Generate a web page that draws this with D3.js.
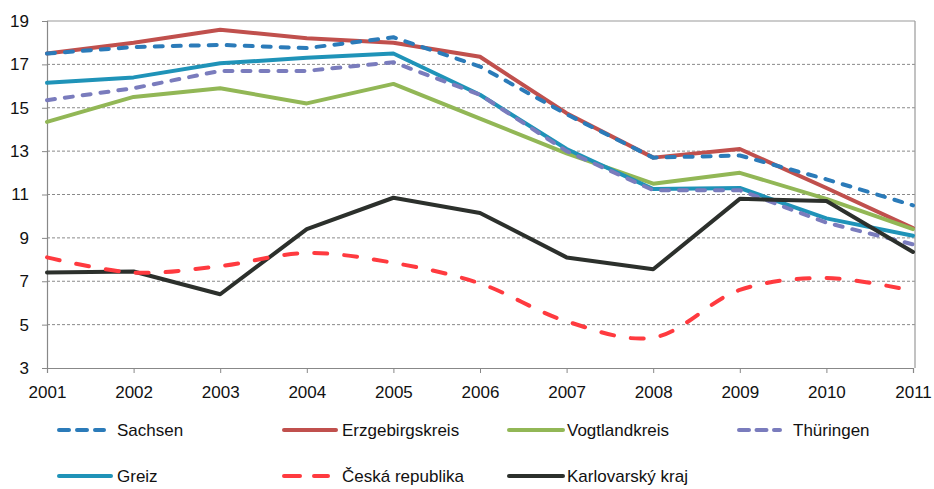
<!DOCTYPE html>
<html>
<head>
<meta charset="utf-8">
<script src="https://cdn.jsdelivr.net/npm/d3@7"></script>
<style>
  html, body { margin: 0; padding: 0; background: #fff; }
  svg { display: block; }
  text { font-family: "Liberation Sans", Arial, sans-serif; fill: #111; }
</style>
</head>
<body>
<svg id="chart" width="934" height="489"></svg>
<script>
const years = [2001, 2002, 2003, 2004, 2005, 2006, 2007, 2008, 2009, 2010, 2011];
const yTicks = [3, 5, 7, 9, 11, 13, 15, 17, 19];

const sachsen          = [17.5, 17.8, 17.9, 17.75, 18.25, 16.9, 14.7, 12.7, 12.8, 11.7, 10.5];
const erzgebirgskreis  = [17.5, 18.0, 18.6, 18.2, 18.0, 17.35, 14.75, 12.7, 13.1, 11.3, 9.45];
const vogtlandkreis    = [14.35, 15.5, 15.9, 15.2, 16.1, 14.5, 12.9, 11.5, 12.0, 10.8, 9.4];
const thueringen       = [15.35, 15.9, 16.7, 16.7, 17.1, 15.6, 13.0, 11.2, 11.2, 9.7, 8.7];
const greiz            = [16.15, 16.4, 17.05, 17.3, 17.5, 15.6, 13.1, 11.25, 11.3, 9.9, 9.1];
const ceskaRepublika   = [8.1, 7.4, 7.7, 8.3, 7.85, 6.9, 5.15, 4.4, 6.6, 7.15, 6.55];
const karlovarskyKraj  = [7.4, 7.45, 6.4, 9.4, 10.85, 10.15, 8.1, 7.55, 10.8, 10.7, 8.35];

const seriesNames = ["Sachsen", "Erzgebirgskreis", "Vogtlandkreis", "Thüringen", "Greiz", "Česká republika", "Karlovarský kraj"];
const seriesValues = [sachsen, erzgebirgskreis, vogtlandkreis, thueringen, greiz, ceskaRepublika, karlovarskyKraj];
const seriesColors = ["#2b7bb9", "#c0504d", "#92b756", "#7a7cbd", "#1f93b8", "#ff3a3f", "#2c302c"];
const seriesDash   = ["8,10", null, null, "8,10", null, "13,17", null];
const seriesSmooth = [false, false, false, false, false, true, false];

const svg = d3.select("#chart");
const plotLeft = 47, plotRight = 913, plotTop = 21, plotBottom = 368;

const x = d3.scaleLinear().domain([2001, 2011]).range([plotLeft, plotRight]);
const y = d3.scaleLinear().domain([3, 19]).range([plotBottom, plotTop]);

// gridlines
svg.append("g").selectAll("line")
  .data(yTicks.filter(v => v > 3 && v < 19))
  .join("line")
  .attr("x1", plotLeft).attr("x2", plotRight + 2)
  .attr("y1", d => y(d)).attr("y2", d => y(d))
  .attr("stroke", "#8a8a8a").attr("stroke-width", 1)
  .attr("stroke-dasharray", "3,2");

// frame top and right
svg.append("line").attr("x1", plotLeft).attr("x2", plotRight + 2).attr("y1", y(19)).attr("y2", y(19))
  .attr("stroke", "#999").attr("stroke-width", 1.2);
svg.append("line").attr("x1", plotRight + 2).attr("x2", plotRight + 2).attr("y1", y(19)).attr("y2", y(3))
  .attr("stroke", "#999").attr("stroke-width", 1.2);

// axes
const yAxis = d3.axisLeft(y).tickValues(yTicks).tickSize(5).tickPadding(13).tickFormat(d3.format("d"));
const gy = svg.append("g").attr("transform", `translate(${plotLeft},0)`).call(yAxis);
gy.select(".domain").attr("stroke", "#888").attr("stroke-width", 1.2);
gy.selectAll(".tick line").attr("stroke", "#888");
gy.selectAll("text").style("font-size", "17px").attr("fill", "#111");

const xAxis = d3.axisBottom(x).tickValues(years).tickSize(5).tickPadding(13).tickFormat(d3.format("d"));
const gx = svg.append("g").attr("transform", `translate(0,${plotBottom})`).call(xAxis);
gx.select(".domain").attr("stroke", "#888").attr("stroke-width", 1.2);
gx.selectAll(".tick line").attr("stroke", "#888");
gx.selectAll("text").style("font-size", "17px").attr("fill", "#111");

// lines
const drawOrder = [1, 2, 4, 3, 6, 5, 0];
drawOrder.forEach(i => {
  const line = d3.line()
    .x((d, j) => x(years[j]))
    .y(d => y(d))
    .curve(seriesSmooth[i] ? d3.curveCatmullRom.alpha(0.5) : d3.curveLinear);
  svg.append("path")
    .datum(seriesValues[i])
    .attr("d", line)
    .attr("fill", "none")
    .attr("stroke", seriesColors[i])
    .attr("stroke-width", 4)
    .attr("stroke-linejoin", "round")
    .attr("stroke-linecap", "round")
    .attr("stroke-dasharray", seriesDash[i]);
});

// legend
const legendCols = [57, 282, 507, 737];
const legendRows = [430, 476];
const legendItems = [
  {i: 0, col: 0, row: 0, len: 49, gap: 11, dash: "10,8"},
  {i: 1, col: 1, row: 0, len: 56, gap: 4, dash: null},
  {i: 2, col: 2, row: 0, len: 58, gap: 2, dash: null},
  {i: 3, col: 3, row: 0, len: 45, gap: 11, dash: "10,7.5"},
  {i: 4, col: 0, row: 1, len: 56, gap: 4, dash: null},
  {i: 5, col: 1, row: 1, len: 48, gap: 12, dash: "16,14"},
  {i: 6, col: 2, row: 1, len: 58, gap: 2, dash: null}
];
const lg = svg.append("g");
legendItems.forEach(it => {
  const x0 = legendCols[it.col], yy = legendRows[it.row];
  lg.append("line")
    .attr("x1", x0 + 2).attr("x2", x0 + it.len - 2).attr("y1", yy).attr("y2", yy)
    .attr("stroke", seriesColors[it.i]).attr("stroke-width", 4)
    .attr("stroke-linecap", "round")
    .attr("stroke-dasharray", it.dash);
  lg.append("text")
    .attr("x", x0 + it.len + it.gap).attr("y", yy)
    .attr("dominant-baseline", "central")
    .style("font-size", "17px")
    .text(seriesNames[it.i]);
});
</script>
</body>
</html>
